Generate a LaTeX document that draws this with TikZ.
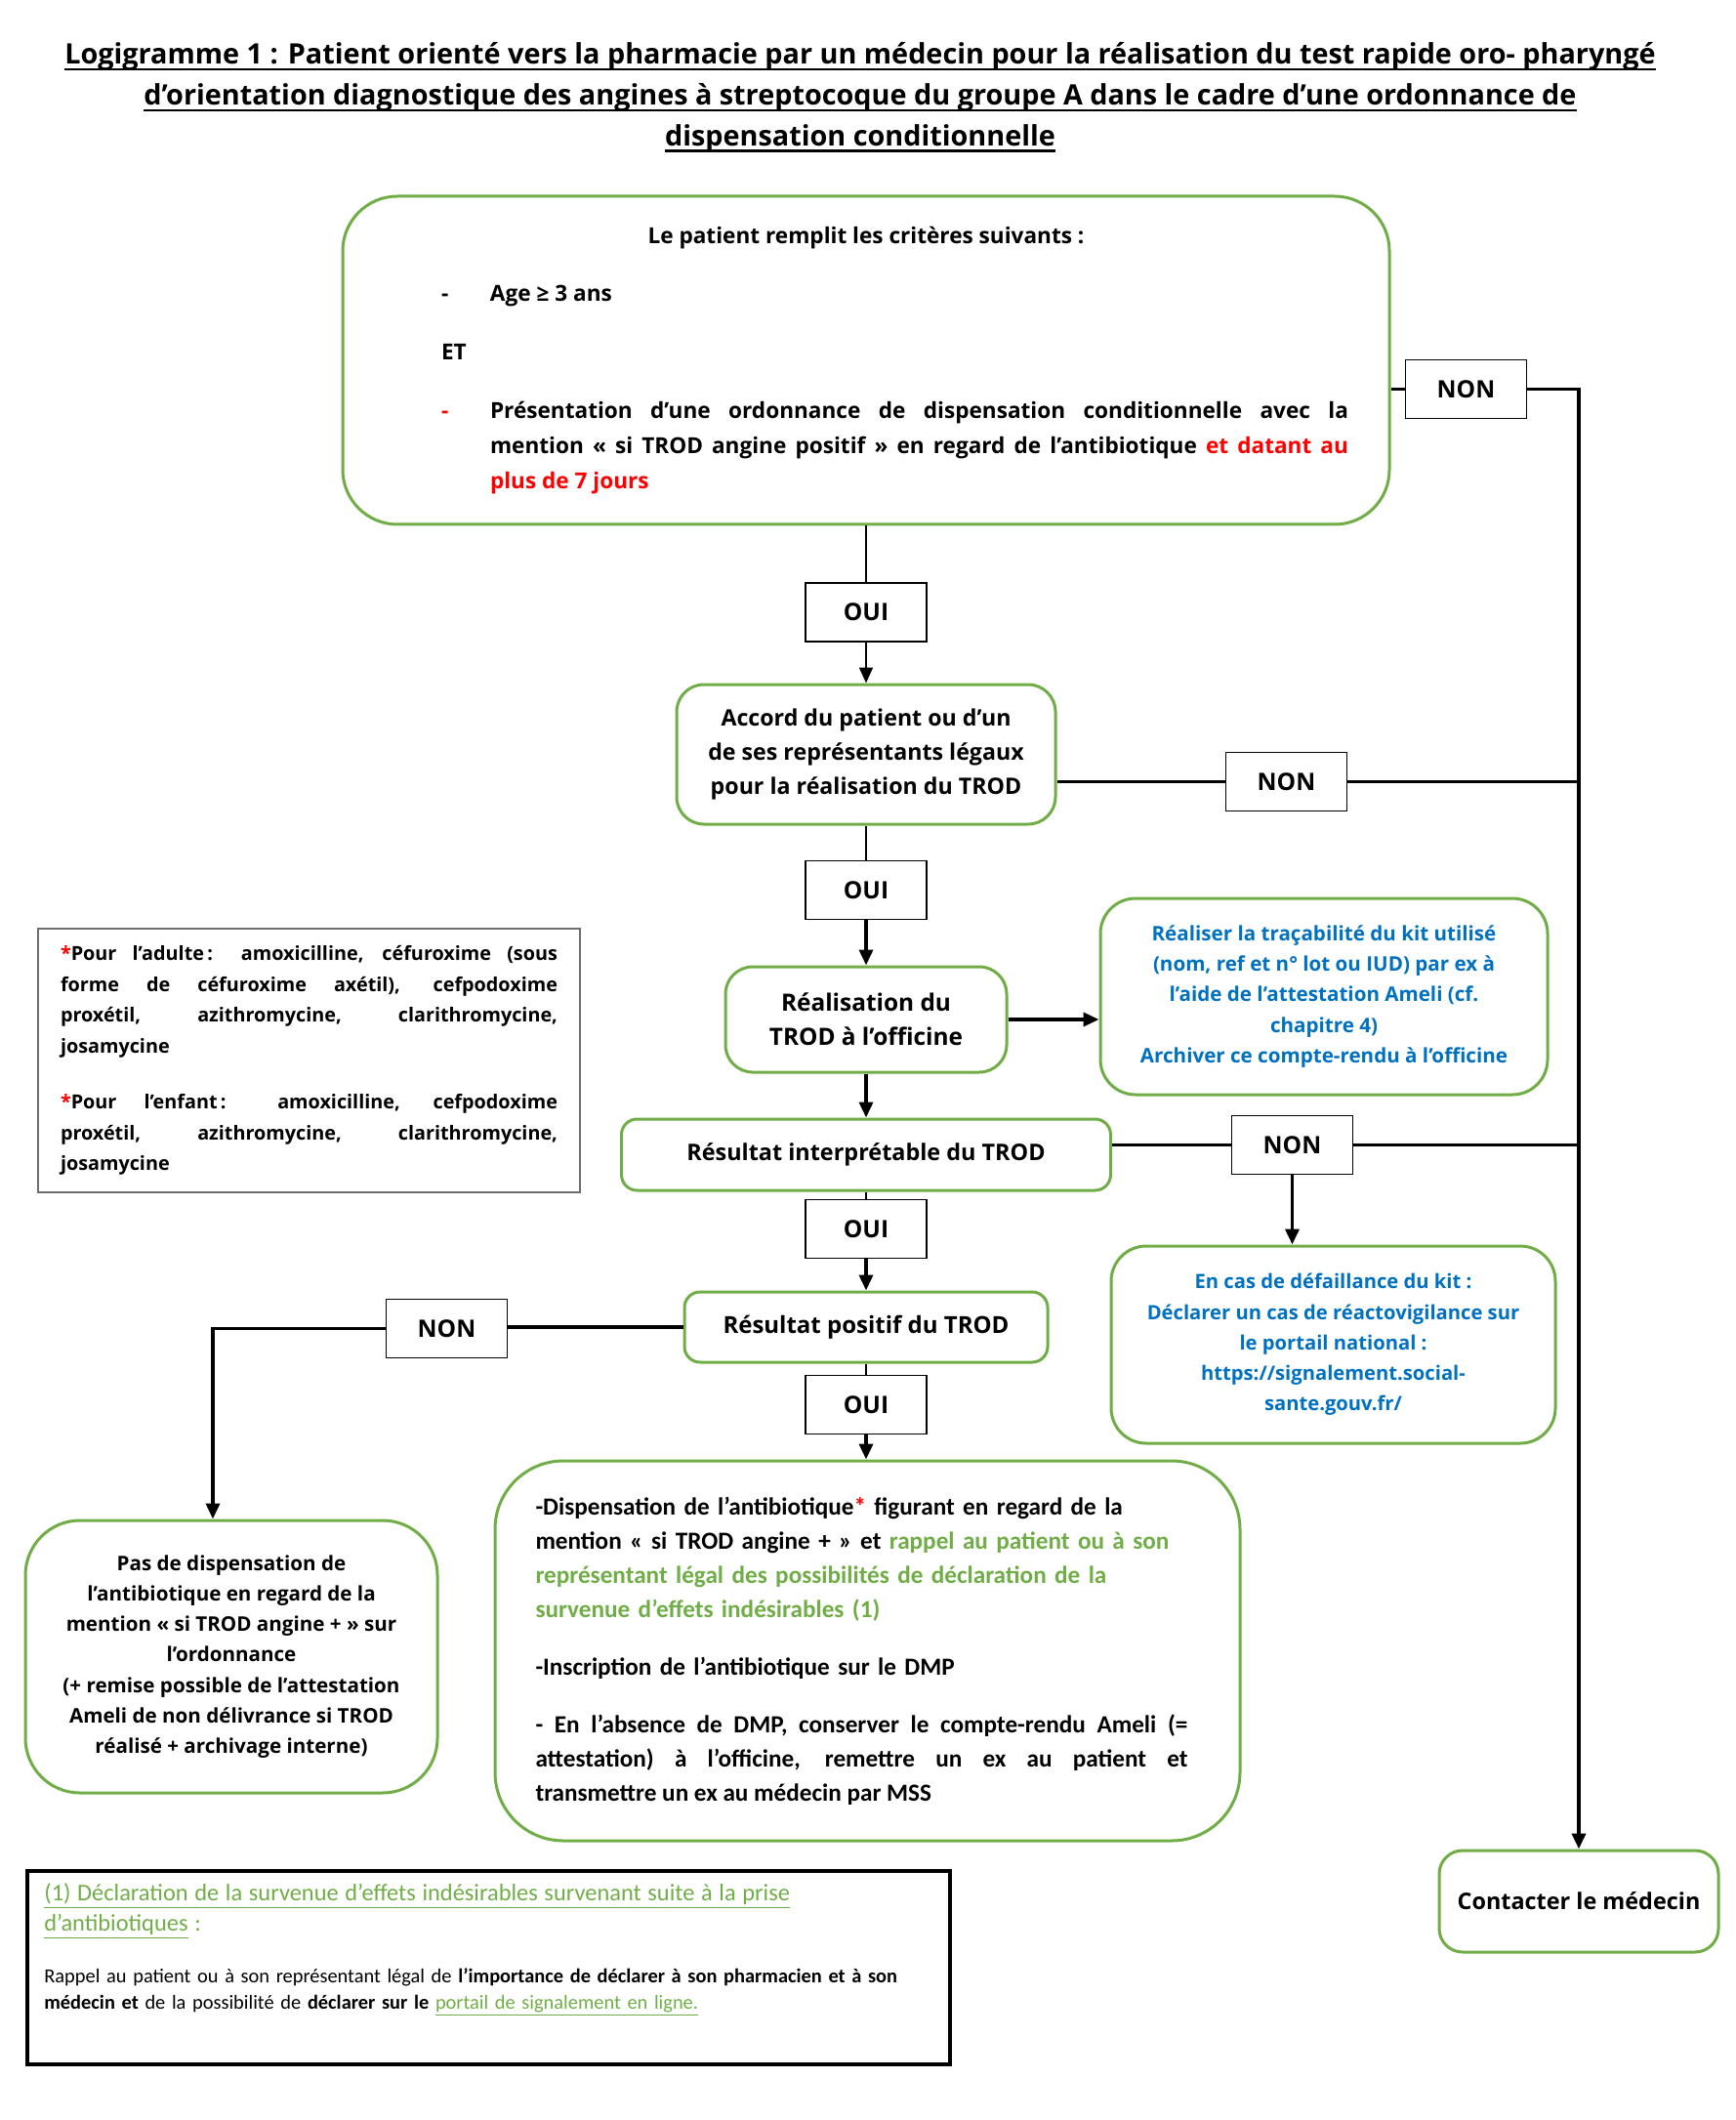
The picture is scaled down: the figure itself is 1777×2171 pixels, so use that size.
\documentclass[tikz,border=0pt]{standalone}
\usepackage{fontspec}
\setmainfont{Open Sans}
\newfontfamily\calibri{Carlito}
\usetikzlibrary{arrows.meta,positioning,calc}
\definecolor{boxgreen}{RGB}{112,173,71}
\definecolor{noteblue}{RGB}{0,112,192}
\definecolor{notered}{RGB}{255,0,0}
\definecolor{notegray}{RGB}{110,110,110}
\newcommand\titleul[1]{\setbox0\hbox{#1}\rlap{\rule[-3.2pt]{\wd0}{1.1pt}}\box0}
\tikzset{
  greenbox/.style={draw=boxgreen, line width=1.5pt, rounded corners=14pt,
    align=center, inner sep=0pt},
  ouinon/.style={draw, line width=0.6pt, minimum width=62pt, minimum height=30pt,
    inner sep=0pt, font=\bfseries\fontsize{12.3}{14}\selectfont},
  thinline/.style={line width=0.9pt},
  thickline/.style={line width=1.8pt},
  arrowhd/.style={-{Triangle[length=8pt,width=7pt]}},
}

\begin{document}
\begin{tikzpicture}[x=0.5pt,y=-0.5pt]
    \useasboundingbox (0,0) rectangle (1777,2171);
    % Title
    \node[font=\bfseries\fontsize{14.4}{20.8}\selectfont, align=center] (title) at (881,100)
      {\titleul{Logigramme 1 : Patient orienté vers la pharmacie par un médecin pour la réalisation du test rapide oro- pharyngé}\\
       \titleul{d’orientation diagnostique des angines à streptocoque du groupe A dans le cadre d’une ordonnance de}\\
       \titleul{dispensation conditionnelle}};
    % Place nodes
    \node[greenbox, rounded corners=28pt, minimum width=536pt, minimum height=168pt,
      text width=494pt, align=justify, font=\bfseries\fontsize{11.3}{18}\selectfont] (crit) at (887,369)
      {{\centering Le patient remplit les critères suivants :\par}
       \vspace{11.5pt}
       {\leftskip=54.5pt \noindent\hspace*{-25pt}\makebox[25pt][l]{-}Age ≥ 3 ans\par}
       \vspace{12pt}
       {\leftskip=29.5pt \noindent ET\par}
       \vspace{12pt}
       {\leftskip=54.5pt \noindent\hspace*{-25pt}\makebox[25pt][l]{\textcolor{notered}{-}}Présentation d’une ordonnance de dispensation conditionnelle avec la\linebreak
        mention «~si TROD angine positif~» en regard de l’antibiotique \textcolor{notered}{et datant au\linebreak
        plus de 7 jours}\par}};
    \node[ouinon] (non1) at (1501.5,398.5) {NON};
    \node[ouinon] (oui1) at (887,627) {OUI};
    \node[greenbox, minimum width=194pt, minimum height=71.5pt,
      font=\bfseries\fontsize{11.6}{17.7}\selectfont] (accord) at (887,772.5)
      {Accord du patient ou d’un\\de ses représentants légaux\\pour la réalisation du TROD};
    \node[ouinon] (non2) at (1317.5,800.5) {NON};
    \node[ouinon] (oui2) at (887,911.5) {OUI};
    \node[greenbox, minimum width=144pt, minimum height=54pt,
      font=\bfseries\fontsize{12.2}{17.5}\selectfont] (real) at (887,1044)
      {Réalisation du\\TROD à l’officine};
    \node[greenbox, rounded corners=18pt, minimum width=229pt, minimum height=100.5pt, text=noteblue,
      font=\bfseries\fontsize{10.3}{15.6}\selectfont] (trac) at (1356,1020.5)
      {Réaliser la traçabilité du kit utilisé\\(nom, ref et n° lot ou IUD) par ex à\\l’aide de l’attestation Ameli (cf.\\chapitre 4)\\Archiver ce compte-rendu à l’officine};
    \node[greenbox, rounded corners=8pt, minimum width=250.5pt, minimum height=36.5pt,
      font=\bfseries\fontsize{11.7}{13}\selectfont] (interp) at (887,1182.5)
      {Résultat interprétable du TROD};
    \node[ouinon] (non3) at (1323.5,1172.5) {NON};
    \node[greenbox, rounded corners=18pt, minimum width=227.5pt, minimum height=101pt, text=noteblue,
      font=\bfseries\fontsize{10.1}{15.6}\selectfont] (defail) at (1365.5,1377)
      {En cas de défaillance du kit :\\Déclarer un cas de réactovigilance sur\\le portail national :\\https://signalement.social-\\sante.gouv.fr/};
    \node[ouinon] (oui3) at (887,1258.5) {OUI};
    \node[greenbox, rounded corners=8pt, minimum width=186pt, minimum height=36pt,
      font=\bfseries\fontsize{12}{13}\selectfont] (pos) at (887,1359)
      {Résultat positif du TROD};
    \node[ouinon] (non4) at (457.5,1360.5) {NON};
    \node[ouinon] (oui4) at (887,1438.5) {OUI};
    \node[greenbox, rounded corners=28pt, minimum width=211pt, minimum height=139.5pt,
      font=\bfseries\fontsize{10.3}{15.6}\selectfont] (nodisp) at (237,1696.5)
      {Pas de dispensation de\\l’antibiotique en regard de la\\mention «~si TROD angine +~» sur\\l’ordonnance\\(+ remise possible de l’attestation\\Ameli de non délivrance si TROD\\réalisé + archivage interne)};
    \node[greenbox, rounded corners=35pt, minimum width=381.5pt, minimum height=194.5pt,
      text width=340pt, align=left, font=\calibri\bfseries\fontsize{12.6}{17.5}\selectfont] (disp) at (888.5,1690.5)
      {-Dispensation de l’antibiotique\textcolor{notered}{*} figurant en regard de la\\
       mention «~si TROD angine +~» et \textcolor{boxgreen}{rappel au patient ou à son\\
       représentant légal des possibilités de déclaration de la\\
       survenue d’effets indésirables (1)}\par
       \vspace{12pt}
       -Inscription de l’antibiotique sur le DMP\par
       \vspace{12pt}
       \noindent\parbox[t]{334pt}{\spaceskip=0pt\xspaceskip=0pt\rightskip=0pt
        - En l’absence de DMP, conserver le compte-rendu Ameli (=\linebreak
        attestation) à l’officine, remettre un ex au patient et\linebreak
        transmettre un ex au médecin par MSS}\par};
    \node[greenbox, rounded corners=12pt, minimum width=143pt, minimum height=52pt,
      font=\bfseries\fontsize{11.7}{13}\selectfont] (contact) at (1617,1947)
      {Contacter le médecin};
    % Notes
    \node[draw=notegray, line width=0.8pt, minimum width=277.5pt, minimum height=135pt,
      text width=254.5pt, align=justify, font=\bfseries\fontsize{9.9}{15.75}\selectfont] (abx) at (316.5,1086)
      {\textcolor{notered}{*}Pour l’adulte\,: amoxicilline, céfuroxime (sous\linebreak
       forme de céfuroxime axétil), cefpodoxime\linebreak
       proxétil, azithromycine, clarithromycine,\linebreak
       josamycine\par
       \vspace{13pt}
       \textcolor{notered}{*}Pour l’enfant\,: amoxicilline, cefpodoxime\linebreak
       proxétil, azithromycine, clarithromycine,\linebreak
       josamycine\par};
    \node[draw, line width=2pt, minimum width=472.5pt, minimum height=99pt] (fnote) at (500.5,2015) {};
    \node[anchor=north west, text width=453.5pt, inner sep=0pt, align=left, font=\calibri]
      (fntext) at ($(fnote.north west)+(19,14)$)
      {{\fontsize{12.2}{15.5}\selectfont\textcolor{boxgreen}{\underline{(1) Déclaration de la survenue d’effets indésirables survenant suite à la prise}}\\
        \textcolor{boxgreen}{\underline{d’antibiotiques} :}\par}
       \vspace{13pt}
       {\fontsize{10.2}{13.5}\selectfont Rappel au patient ou à son représentant légal de \textbf{l’importance de déclarer à son pharmacien et à son}\\
        \textbf{médecin et} de la possibilité de \textbf{déclarer sur le} \textcolor{boxgreen}{\underline{portail de signalement en ligne.}}\par}};
    % Draw edges
    \draw[thinline] (crit.south) -- (oui1.north);
    \draw[thinline, arrowhd] (oui1.south) -- (accord.north);
    \draw[thickline] (non1.west -| crit.east) -- (non1.west);
    \draw[thickline, arrowhd] (non1.east) -| (contact.north);
    \draw[thickline] (non2.west -| accord.east) -- (non2.west);
    \draw[thickline] (non2.east) -- (non2.east -| contact.north);
    \draw[thinline] (accord.south) -- (oui2.north);
    \draw[thickline, arrowhd] (oui2.south) -- (real.north);
    \draw[thickline, arrowhd] (real.east) -- (real.east -| trac.west);
    \draw[thickline, arrowhd] (real.south) -- (real.south |- interp.north);
    \draw[thickline] (non3.west -| interp.east) -- (non3.west);
    \draw[thickline] (non3.east) -- (non3.east -| contact.north);
    \draw[thickline, arrowhd] (non3.south) -- (non3.south |- defail.north);
    \draw[thinline] (interp.south) -- (oui3.north);
    \draw[thickline, arrowhd] (oui3.south) -- (pos.north);
    \draw[thickline] (pos.west) -- (pos.west -| non4.east);
    \draw[thickline, arrowhd] (non4.west) -| ([xshift=-9.5pt]nodisp.north);
    \draw[thinline] (pos.south) -- (oui4.north);
    \draw[thickline, arrowhd] (oui4.south) -- (oui4.south |- disp.north);
\end{tikzpicture}
\end{document}
